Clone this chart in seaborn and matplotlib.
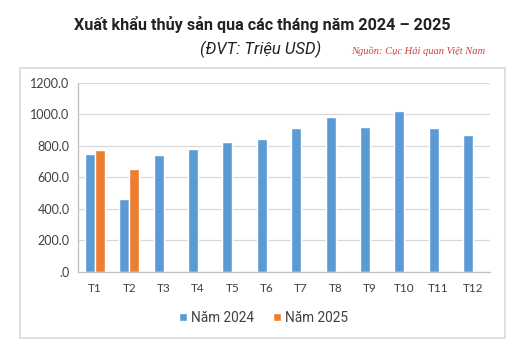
import numpy as np
import pandas as pd
import matplotlib
matplotlib.use("Agg")
from matplotlib import pyplot as plt
from matplotlib.ticker import FuncFormatter, FixedLocator
from matplotlib.patches import Rectangle
import seaborn as sns

# Data (million USD)
months = ['T1', 'T2', 'T3', 'T4', 'T5', 'T6', 'T7', 'T8', 'T9', 'T10', 'T11', 'T12']
values_2024 = [750, 461, 741, 779, 828, 841, 917, 985, 923, 1025, 917, 872]
values_2025 = [773, 654] + [np.nan] * 10
series_names = ['Năm 2024', 'Năm 2025']
colors = ['#5B9BD5', '#ED7D31']

df = pd.DataFrame({
    'month': months * 2,
    'value': values_2024 + values_2025,
    'series': [series_names[0]] * 12 + [series_names[1]] * 12,
})

sns.set_style('white')
plt.rcParams['font.family'] = ['Roboto', 'DejaVu Sans']

fig = plt.figure(figsize=(5.22, 3.55), dpi=100)
ax = fig.add_axes([0.149, 0.235, 0.79, 0.531])

sns.barplot(data=df, x='month', y='value', hue='series', order=months,
            hue_order=series_names, palette=colors, width=0.58, gap=0,
            saturation=1, errorbar=None, ax=ax)

# Outer chart border
fig.patches.append(Rectangle((0.038, 0.048), 0.929, 0.761, transform=fig.transFigure,
                             fill=False, edgecolor='#D9D9D9', linewidth=1.2))

ax.set_ylim(0, 1200)
ax.set_xlim(-0.5, 11.5)
ax.set_yticks(np.arange(0, 1201, 200))
ax.yaxis.set_major_formatter(FuncFormatter(lambda v, p: '.0' if v == 0 else f'{v:.1f}'))
ax.grid(axis='y', color='#D9D9D9', linewidth=0.9)
ax.set_axisbelow(True)
ax.set_xlabel('')
ax.set_ylabel('')

for s in ['top', 'right']:
    ax.spines[s].set_visible(False)
for s in ['left', 'bottom']:
    ax.spines[s].set_color('#BFBFBF')
    ax.spines[s].set_linewidth(0.9)

ax.xaxis.set_minor_locator(FixedLocator(np.arange(-0.5, 12, 1)))
ax.tick_params(axis='x', which='major', length=0, pad=8, labelsize=8.5, labelcolor='#404040')
ax.tick_params(axis='x', which='minor', length=4, color='#BFBFBF', direction='out')
ax.tick_params(axis='y', length=4, color='#BFBFBF', labelsize=9, labelcolor='#404040', pad=2)
for lab in ax.get_xticklabels() + ax.get_yticklabels():
    lab.set_family(['Lato', 'DejaVu Sans'])

handles, labels = ax.get_legend_handles_labels()
ax.get_legend().remove()
fig.legend(handles, labels, loc='center', bbox_to_anchor=(0.505, 0.105), ncol=2,
           frameon=False, fontsize=9.8, handlelength=0.6, handleheight=0.6,
           handletextpad=0.3, columnspacing=1.4, labelcolor='#404040')

fig.text(0.502, 0.93, 'Xuất khẩu thủy sản qua các tháng năm 2024 – 2025',
         ha='center', va='center', fontsize=11.6, fontweight='bold', color='#222222')
fig.text(0.5, 0.862, '(ĐVT: Triệu USD)', ha='center', va='center',
         fontsize=12, style='italic', color='#222222')
fig.text(0.93, 0.855, 'Nguồn: Cục Hải quan Việt Nam', ha='right', va='center',
         fontsize=7.6, style='italic', color='#D04040', family=['Liberation Serif'])

fig.savefig('out.png', dpi=100)
